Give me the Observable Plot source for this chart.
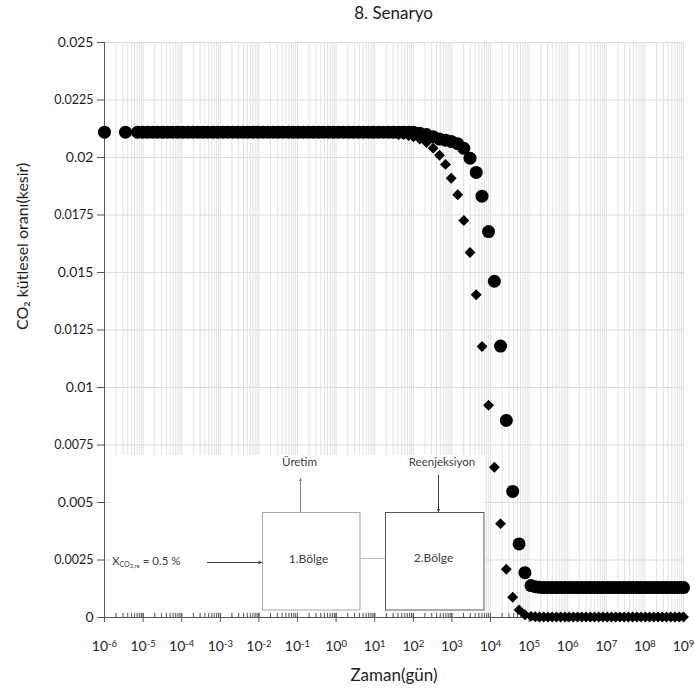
<!DOCTYPE html>
<html><head><meta charset="utf-8">
<script src="https://cdn.jsdelivr.net/npm/d3@7"></script>
<script src="https://cdn.jsdelivr.net/npm/@observablehq/plot@0.6"></script>
<style>
 body{margin:0;background:#fff;font-family:Lato,"Open Sans",sans-serif;}
 #title{width:695px;box-sizing:border-box;padding-left:104px;padding-right:12px;height:26px;line-height:26px;text-align:center;font-size:17px;color:#222;}
 #chart svg{display:block;}
</style></head><body>
<div id="title">8. Senaryo</div>
<div id="chart"></div>
<script>
// ---- data (time in days, CO2 mass fraction) ----
const times = [
 1e-6, 3.5e-6, 7.2e-6, 9.7e-6, 1.31e-5, 1.77e-5, 2.38e-5, 3.21e-5, 4.33e-5, 5.85e-5, 7.89e-5,
 1.06e-4, 1.44e-4, 1.94e-4, 2.61e-4, 3.52e-4, 4.75e-4, 6.41e-4, 8.65e-4,
 1.17e-3, 1.57e-3, 2.12e-3, 2.86e-3, 3.87e-3, 5.21e-3, 7.03e-3, 9.49e-3,
 0.0128, 0.0173, 0.0233, 0.0314, 0.0424, 0.0572, 0.0772,
 0.104, 0.140, 0.189, 0.255, 0.345, 0.465, 0.627, 0.846,
 1.14, 1.54, 2.08, 2.80, 3.78, 5.10, 6.88, 9.28,
 12.5, 16.9, 22.8, 30.7, 41.4, 55.9, 75.4,
 101, 147, 220, 327, 477, 683, 959, 1413, 2033, 2944,
 4266, 6030, 8900, 12600, 18200, 25700, 37600, 55000, 78000, 112000,
 1.445e5, 1.86e5, 2.39e5, 3.08e5, 3.96e5, 5.10e5, 6.57e5, 8.46e5,
 1.09e6, 1.40e6, 1.80e6, 2.32e6, 2.99e6, 3.85e6, 4.95e6, 6.38e6, 8.21e6,
 1.06e7, 1.36e7, 1.75e7, 2.25e7, 2.90e7, 3.73e7, 4.81e7, 6.19e7, 7.97e7,
 1.03e8, 1.32e8, 1.70e8, 2.19e8, 2.82e8, 3.62e8, 4.67e8, 6.01e8, 7.73e8, 1e9
];
// diamond series
const diamondValues = [
 0.0211,0.0211,0.0211,0.0211,0.0211,0.0211,0.0211,0.0211,0.0211,0.0211,
 0.0211,0.0211,0.0211,0.0211,0.0211,0.0211,0.0211,0.0211,0.0211,0.0211,
 0.0211,0.0211,0.0211,0.0211,0.0211,0.0211,0.0211,0.0211,0.0211,0.0211,
 0.0211,0.0211,0.0211,0.0211,0.0211,0.0211,0.0211,0.0211,0.0211,0.0211,
 0.0211,0.0211,0.0211,0.0211,0.0211,0.0211,0.0211,0.0211,0.0211,0.0211,
 0.0211,0.0211,0.0211,0.02105,0.0210,0.0210,0.02095,
 0.0209,0.0208,0.02065,0.0204,0.0201,0.0197,0.0191,0.01838,0.01726,0.01587,
 0.01403,0.01178,0.00923,0.00653,0.00408,0.0021,0.00088,0.00033,0.00012,0.00005,
 0.00003,0.00002,0.00002,0.00002,0.00002,0.00002,0.00002,0.00002,0.00002,0.00002,
 0.00002,0.00002,0.00002,0.00002,0.00002,0.00002,0.00002,0.00002,0.00002,0.00002,
 0.00002,0.00002,0.00002,0.00002,0.00002,0.00002,0.00002,0.00002,0.00002,0.00002,
 0.00002,0.00002,0.00002,0.00002,0.00002,0.00002
];
// circle series
const circleValues = [
 0.0211,0.0211,0.0211,0.0211,0.0211,0.0211,0.0211,0.0211,0.0211,0.0211,
 0.0211,0.0211,0.0211,0.0211,0.0211,0.0211,0.0211,0.0211,0.0211,0.0211,
 0.0211,0.0211,0.0211,0.0211,0.0211,0.0211,0.0211,0.0211,0.0211,0.0211,
 0.0211,0.0211,0.0211,0.0211,0.0211,0.0211,0.0211,0.0211,0.0211,0.0211,
 0.0211,0.0211,0.0211,0.0211,0.0211,0.0211,0.0211,0.0211,0.0211,0.0211,
 0.0211,0.0211,0.0211,0.0211,0.0211,0.0211,0.0211,
 0.0211,0.02105,0.0210,0.0209,0.0208,0.02075,0.0207,0.0206,0.0204,0.01997,
 0.01935,0.01832,0.01678,0.01462,0.0118,0.00857,0.00548,0.0032,0.00195,0.00139,
 0.00134,0.00131,0.0013,0.0013,0.0013,0.0013,0.0013,0.0013,0.0013,0.0013,
 0.0013,0.0013,0.0013,0.0013,0.0013,0.0013,0.0013,0.0013,0.0013,0.0013,
 0.0013,0.0013,0.0013,0.0013,0.0013,0.0013,0.0013,0.0013,0.0013,0.0013,
 0.0013,0.0013,0.0013,0.0013,0.0013,0.0013
];
const yTicks = [0, 0.0025, 0.005, 0.0075, 0.01, 0.0125, 0.015, 0.0175, 0.02, 0.0225, 0.025];
const xTickExponents = [-6,-5,-4,-3,-2,-1,0,1,2,3,4,5,6,7,8,9];

// ---- build ----
const rows = times.map((t, i) => ({t, d: diamondValues[i], c: circleValues[i]}));
const decades = xTickExponents.map(e => Math.pow(10, e));
const minorGrid = [];
for (const e of xTickExponents.slice(0, -1)) for (let m = 1; m <= 9; m++) minorGrid.push(m * Math.pow(10, e));
minorGrid.push(1e9);
const yShort = yTicks.filter(d => String(d).length <= 5);
const yLong = yTicks.filter(d => String(d).length > 5);
const axisColor = "#595959";

const plot = Plot.plot({
  width: 695, height: 664,
  marginLeft: 104, marginRight: 12, marginTop: 16, marginBottom: 73,
  style: {fontFamily: "Lato, 'Open Sans', sans-serif", background: "white", color: "#1e1e1e", overflow: "visible"},
  x: {type: "log", domain: [1e-6, 1e9]},
  y: {domain: [0, 0.025]},
  marks: [
    Plot.ruleX(minorGrid, {stroke: "#e2e2e2", strokeWidth: 1}),
    Plot.ruleY(yTicks, {stroke: "#dcdcdc", strokeWidth: 1}),
    Plot.ruleX([1e-6], {stroke: axisColor}),
    Plot.ruleY([0], {stroke: axisColor}),
    Plot.axisY(yShort, {tickSize: 7, tickPadding: 4, fontSize: 14, stroke: axisColor, tickFormat: d => String(d), label: null}),
    Plot.axisY(yLong, {tickSize: 7, tickPadding: 4, fontSize: 12.5, stroke: axisColor, tickFormat: d => String(d), label: null}),
    Plot.axisX(minorGrid, {tickSize: 4, dy: -4, stroke: axisColor, fill: "none", label: null}),
    Plot.axisX(decades, {tickSize: 9, dy: -4, stroke: axisColor, fill: "none", label: null}),
    Plot.axisX(decades, {tickSize: 0, tickPadding: 24, fontSize: 14, label: null,
      tickFormat: d => "10^" + Math.round(Math.log10(d))}),
    Plot.text(["Zaman(gün)"], {text: d => d, frameAnchor: "bottom", dy: 58, fontSize: 17, lineAnchor: "middle"}),
    Plot.text(["CO₂ kütlesel oranı(kesir)"], {text: d => d, frameAnchor: "left", dx: -82, rotate: -90, fontSize: 16, lineAnchor: "middle"}),
    Plot.dot(rows, {x: "t", y: "c", r: 6.5, fill: "#000", symbol: "circle"}),
    Plot.dot(rows, {x: "t", y: "d", r: 4.9, fill: "#000", symbol: "diamond2"})
  ]
});
document.getElementById("chart").appendChild(plot);

const svg = d3.select(plot);
// superscript exponents on x tick labels
svg.selectAll('g[aria-label="x-axis tick label"] text').each(function () {
  const m = /^10\^(.+)$/.exec(this.textContent);
  if (!m) return;
  const el = d3.select(this);
  el.text("10");
  el.append("tspan").attr("dy", "-0.5em").attr("font-size", "9.5px").text(m[1]);
});

// ---- inset diagram (annotation), positioned relative to the plot frame ----
const oy = 2;
const inset = svg.insert("g", 'g[aria-label="dot"]')
  .attr("font-family", "Lato, 'Open Sans', sans-serif").attr("fill", "#404040")
  .attr("transform", `translate(0,${oy})`);
inset.append("rect").attr("x", 110).attr("y", 427).attr("width", 375).attr("height", 157).attr("fill", "white");
inset.append("rect").attr("x", 262.5).attr("y", 484.5).attr("width", 97.5).attr("height", 97.5)
  .attr("fill", "white").attr("stroke", "#a6a6a6");
inset.append("rect").attr("x", 385.5).attr("y", 484.5).attr("width", 98.5).attr("height", 97.5)
  .attr("fill", "white").attr("stroke", "#595959");
function arrow(x1, y1, x2, y2, color, head) {
  inset.append("line").attr("x1", x1).attr("y1", y1).attr("x2", x2).attr("y2", y2)
    .attr("stroke", color).attr("stroke-width", 1);
  const a = Math.atan2(y2 - y1, x2 - x1), L = head, W = head * 0.55;
  const p = [[x2, y2],
    [x2 - L * Math.cos(a) + W * Math.sin(a), y2 - L * Math.sin(a) - W * Math.cos(a)],
    [x2 - L * Math.cos(a) - W * Math.sin(a), y2 - L * Math.sin(a) + W * Math.cos(a)]];
  inset.append("path").attr("d", "M" + p.join("L") + "Z").attr("fill", color);
}
arrow(300.5, 484, 300.5, 450, "#808080", 3);
arrow(438.5, 447, 438.5, 484, "#404040", 3);
arrow(207, 534.5, 262, 534.5, "#404040", 3.5);
inset.append("line").attr("x1", 360).attr("x2", 385.5).attr("y1", 530.5).attr("y2", 530.5).attr("stroke", "#bfbfbf");
const lbl = (x, y, s, size) => inset.append("text").attr("x", x).attr("y", y).attr("text-anchor", "middle")
  .attr("dominant-baseline", "middle").attr("font-size", size).text(s);
lbl(299.5, 435.5, "Üretim", 11.5);
lbl(442, 435.5, "Reenjeksiyon", 11.5);
lbl(308.5, 532, "1.Bölge", 12);
lbl(433.5, 530.5, "2.Bölge", 12);
const xt = inset.append("text").attr("x", 112).attr("y", 534).attr("text-anchor", "start")
  .attr("dominant-baseline", "middle").attr("font-size", 11.5);
xt.append("tspan").text("X");
xt.append("tspan").attr("font-size", 7).attr("dy", 3).text("CO");
xt.append("tspan").attr("font-size", 6).attr("dy", 1).text("2,re");
xt.append("tspan").attr("font-size", 11.5).attr("dy", -4).text(" = 0.5 %");
</script></body></html>
